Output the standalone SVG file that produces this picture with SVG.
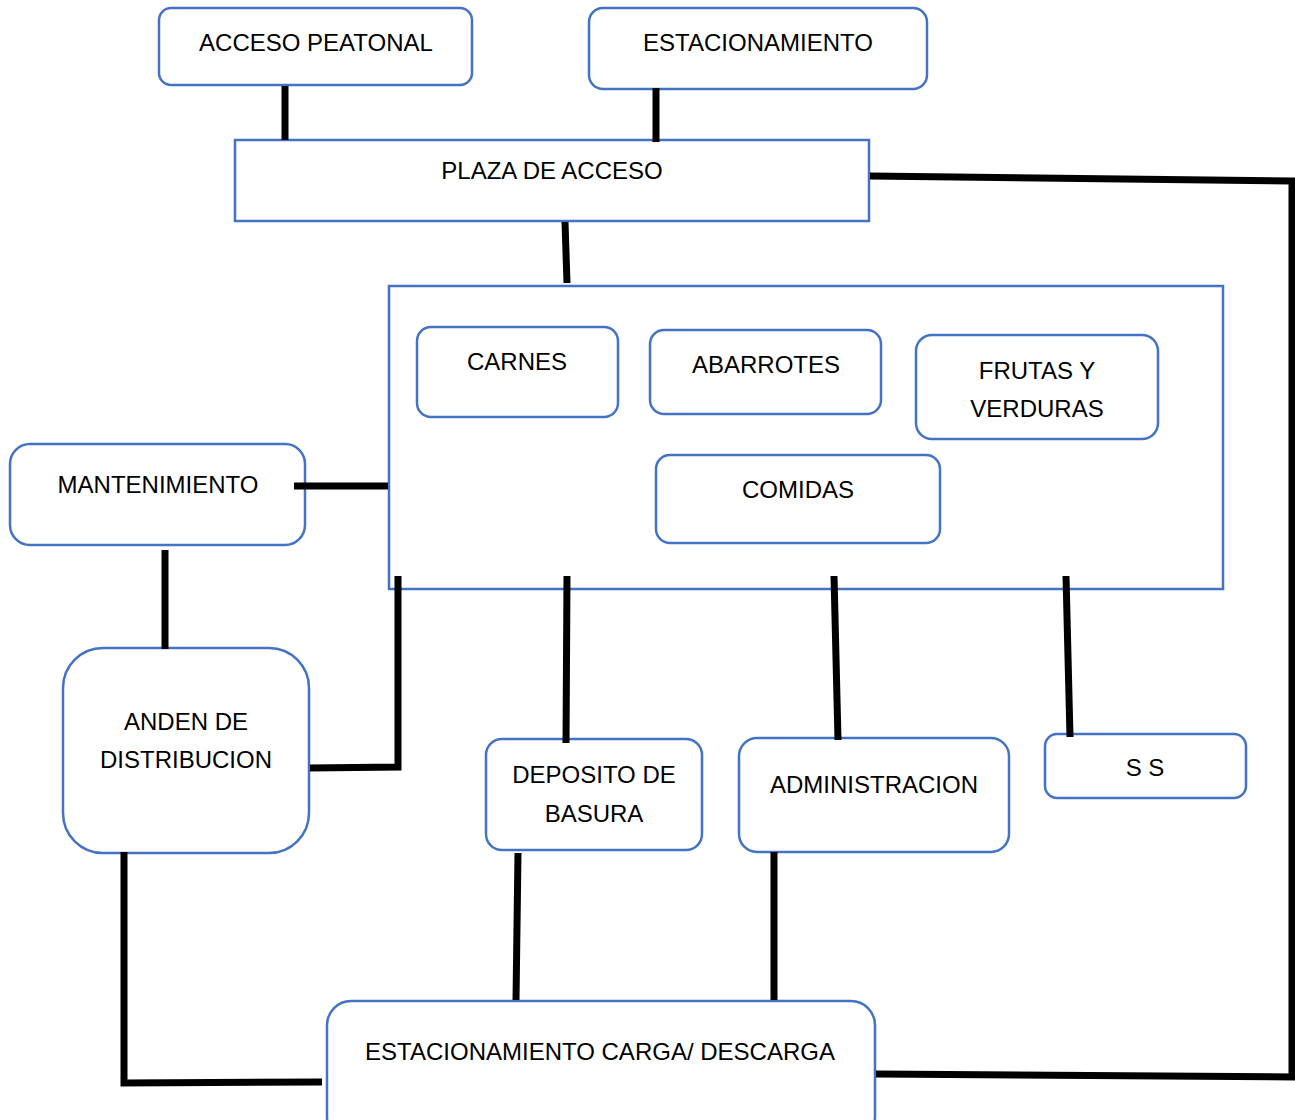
<svg xmlns="http://www.w3.org/2000/svg" width="1295" height="1120" viewBox="0 0 1295 1120">
<style>
.n{fill:#fff;stroke:#4472c4;stroke-width:2.5}
.t{font-family:"Liberation Sans",Arial,sans-serif;font-size:24px;fill:#000;text-anchor:middle}
.c{fill:none;stroke:#000;stroke-width:7}
</style>
<rect width="1295" height="1120" fill="#fff"/>
<g id="acceso-peatonal"><rect class="n" x="159" y="8" width="313" height="77" rx="12"/><text class="t" x="316" y="51">ACCESO PEATONAL</text></g>
<g id="estacionamiento"><rect class="n" x="589" y="8" width="338" height="81" rx="14"/><text class="t" x="758" y="51">ESTACIONAMIENTO</text></g>
<g id="plaza-de-acceso"><rect class="n" x="235" y="140" width="634" height="81"/><text class="t" x="552" y="179">PLAZA DE ACCESO</text></g>
<g id="mercado"><rect class="n" x="389" y="286" width="834" height="303"/></g>
<g id="carnes"><rect class="n" x="417" y="327" width="201" height="90" rx="14"/><text class="t" x="517" y="370">CARNES</text></g>
<g id="abarrotes"><rect class="n" x="650" y="330" width="231" height="84" rx="14"/><text class="t" x="766" y="373">ABARROTES</text></g>
<g id="frutas-y-verduras"><rect class="n" x="916" y="335" width="242" height="104" rx="16"/><text class="t" x="1037" y="379">FRUTAS Y</text><text class="t" x="1037" y="417">VERDURAS</text></g>
<g id="comidas"><rect class="n" x="656" y="455" width="284" height="88" rx="14"/><text class="t" x="798" y="498">COMIDAS</text></g>
<g id="mantenimiento"><rect class="n" x="10" y="444" width="295" height="101" rx="20"/><text class="t" x="158" y="493">MANTENIMIENTO</text></g>
<g id="anden-de-distribucion"><rect class="n" x="63" y="648" width="246" height="205" rx="40"/><text class="t" x="186" y="730">ANDEN DE</text><text class="t" x="186" y="768">DISTRIBUCION</text></g>
<g id="deposito-de-basura"><rect class="n" x="486" y="739" width="216" height="111" rx="16"/><text class="t" x="594" y="783">DEPOSITO DE</text><text class="t" x="594" y="822">BASURA</text></g>
<g id="administracion"><rect class="n" x="739" y="738" width="270" height="114" rx="18"/><text class="t" x="874" y="793">ADMINISTRACION</text></g>
<g id="ss"><rect class="n" x="1045" y="734" width="201" height="64" rx="12"/><text class="t" x="1145" y="776">S S</text></g>
<g id="estacionamiento-carga-descarga"><rect class="n" x="327" y="1001" width="548" height="140" rx="24"/><text class="t" x="600" y="1060">ESTACIONAMIENTO CARGA/ DESCARGA</text></g>
<g id="connectors">
<line class="c" x1="285" y1="86" x2="285" y2="140"/>
<line class="c" x1="656" y1="88" x2="656" y2="142"/>
<polyline class="c" points="870,176 1292,181 1292,1077"/>
<line class="c" x1="876" y1="1074" x2="1295" y2="1077"/>
<line class="c" x1="565" y1="222" x2="567" y2="283"/>
<line class="c" x1="294" y1="486" x2="388" y2="486"/>
<line class="c" x1="165" y1="550" x2="165" y2="649"/>
<polyline class="c" points="398,576 398,767 310,768"/>
<line class="c" x1="567" y1="576" x2="566" y2="743"/>
<line class="c" x1="834" y1="576" x2="838" y2="740"/>
<line class="c" x1="1066" y1="576" x2="1070" y2="737"/>
<line class="c" x1="518" y1="853" x2="516" y2="1000"/>
<line class="c" x1="774" y1="852" x2="774" y2="1000"/>
<polyline class="c" points="124,852 124,1083 322,1082"/>
</g>
</svg>
